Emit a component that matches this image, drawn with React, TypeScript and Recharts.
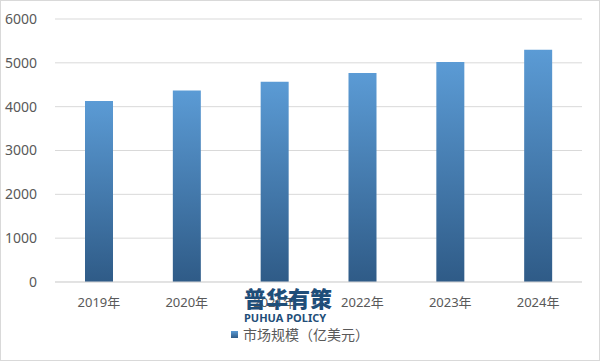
import React from 'react';
import { BarChart, Bar, XAxis, YAxis, CartesianGrid } from 'recharts';

const years = ['2019年', '2020年', '2021年', '2022年', '2023年', '2024年'];
const marketSize = [4130, 4370, 4570, 4770, 5020, 5300];
const yTicks = [0, 1000, 2000, 3000, 4000, 5000, 6000];

const data = years.map((year, i) => ({ year, value: marketSize[i] }));

const FONT = '"Noto Sans", "Noto Sans CJK SC", sans-serif';

export default function App() {
  return (
    <div style={{ position: 'absolute', left: 0, top: 0, width: 600, height: 361, background: '#fff', fontFamily: FONT }}>
      <BarChart width={600} height={361} data={data} margin={{ top: 19, right: 18, bottom: 49, left: 0 }}>
        <defs>
          <linearGradient id="barFill" x1="0" y1="0" x2="0" y2="1">
            <stop offset="0%" stopColor="#5b9bd5" />
            <stop offset="100%" stopColor="#2f5b87" />
          </linearGradient>
        </defs>
        <CartesianGrid vertical={false} stroke="#d9d9d9" />
        <XAxis
          dataKey="year"
          height={30}
          axisLine={{ stroke: '#d9d9d9' }}
          tickLine={false}
          tick={{ fontSize: 13, fill: '#595959' }}
          tickMargin={10}
        />
        <YAxis
          domain={[0, 6000]}
          ticks={yTicks}
          axisLine={false}
          tickLine={false}
          tick={{ fontSize: 14, fill: '#595959' }}
          width={55}
          tickMargin={12}
        />
        <Bar dataKey="value" name="市场规模（亿美元）" fill="url(#barFill)" barSize={28} isAnimationActive={false} />
      </BarChart>
      {/* watermark */}
      <div style={{ position: 'absolute', left: 244, top: 284, color: '#1f4e79', pointerEvents: 'none' }}>
        <div style={{ fontSize: 22, lineHeight: '26px', fontWeight: 900, fontFamily: '"Noto Sans CJK SC", sans-serif' }}>普华有策</div>
        <div style={{ fontSize: 11, lineHeight: '10px', fontWeight: 700, marginTop: 3, fontFamily: '"Noto Sans", sans-serif' }}>PUHUA POLICY</div>
      </div>
      {/* legend */}
      <div style={{ position: 'absolute', left: 231, top: 328, display: 'flex', alignItems: 'center', gap: 5, fontSize: 14, lineHeight: '13px', color: '#595959' }}>
        <span style={{ width: 7, height: 7, background: 'linear-gradient(#5b9bd5, #2f5b87)', display: 'inline-block' }} />
        <span>市场规模（亿美元）</span>
      </div>
      <div style={{ position: 'absolute', inset: 0, border: '1px solid #d9d9d9', pointerEvents: 'none' }} />
    </div>
  );
}
